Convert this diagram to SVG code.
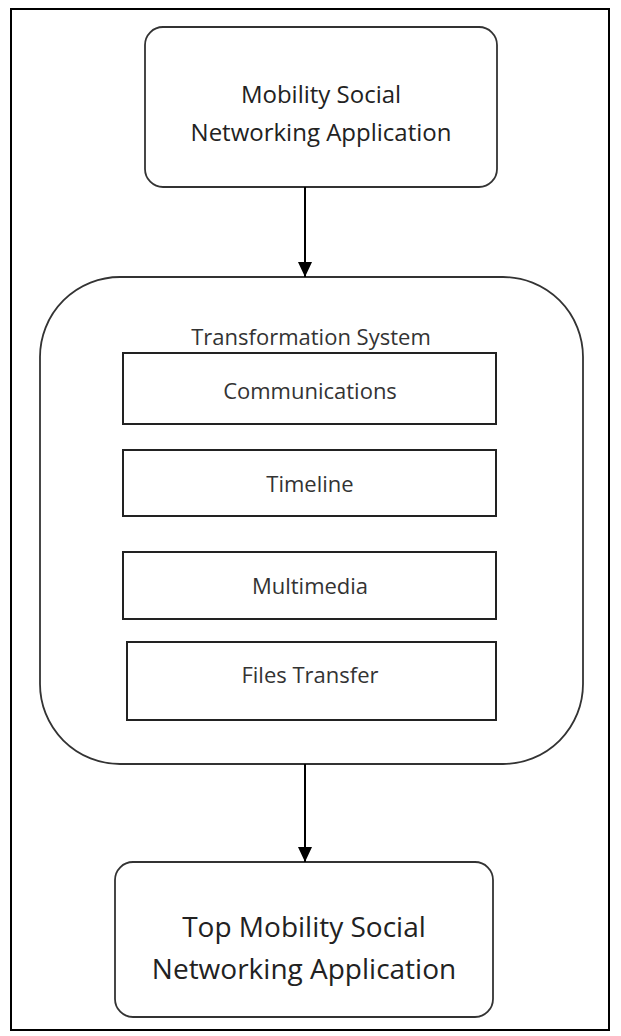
<svg xmlns="http://www.w3.org/2000/svg" width="621" height="1036" viewBox="0 0 621 1036">
<defs>
<style>
.box{fill:#fff;stroke:#333;stroke-width:1.8}
.sub{fill:#fff;stroke:#222;stroke-width:2}
.t{font-family:"Open Sans","DejaVu Sans",sans-serif;text-anchor:middle;fill:#222}
.big{font-size:24px}
.big2{font-size:28px}
.small{font-size:22px;fill:#333}
.con{stroke:#000;stroke-width:2;fill:none}
</style>
<marker id="ah" markerWidth="16" markerHeight="14" refX="15" refY="7" orient="auto" markerUnits="userSpaceOnUse">
<path d="M0,0 L15,7 L0,14 Z" fill="#000"/>
</marker>
</defs>
<rect x="0" y="0" width="621" height="1036" fill="#fff"/>
<rect x="11" y="9" width="598" height="1021" fill="none" stroke="#000" stroke-width="2"/>
<g id="top">
<rect class="box" x="145" y="27" width="352" height="160" rx="18"/>
<text class="t big" x="321" y="103">Mobility Social</text>
<text class="t big" x="321" y="141">Networking Application</text>
</g>
<g id="transformation">
<rect class="box" x="40" y="277" width="543" height="487" rx="80"/>
<text class="t small" x="311" y="345">Transformation System</text>
</g>
<g id="communications">
<rect class="sub" x="123" y="353" width="373" height="71"/>
<text class="t small" x="310" y="399">Communications</text>
</g>
<g id="timeline">
<rect class="sub" x="123" y="450" width="373" height="66"/>
<text class="t small" x="310" y="492">Timeline</text>
</g>
<g id="multimedia">
<rect class="sub" x="123" y="552" width="373" height="67"/>
<text class="t small" x="310" y="594">Multimedia</text>
</g>
<g id="files">
<rect class="sub" x="127" y="642" width="369" height="78"/>
<text class="t small" x="310" y="683">Files Transfer</text>
</g>
<g id="bottom">
<rect class="box" x="115" y="862" width="378" height="155" rx="18"/>
<text class="t big2" x="304" y="937">Top Mobility Social</text>
<text class="t big2" x="304" y="979">Networking Application</text>
</g>
<g id="connectors">
<line class="con" x1="305" y1="187" x2="305" y2="277" marker-end="url(#ah)"/>
<line class="con" x1="305" y1="764" x2="305" y2="862" marker-end="url(#ah)"/>
</g>
</svg>
